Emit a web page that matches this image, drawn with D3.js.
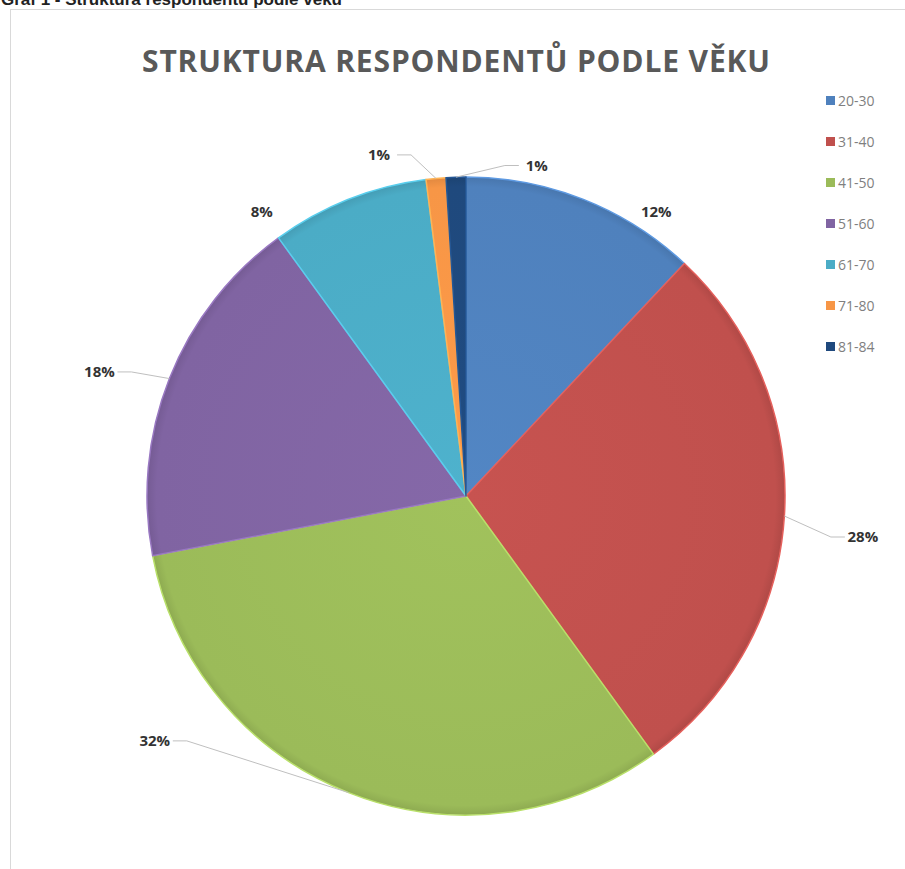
<!DOCTYPE html>
<html>
<head>
<meta charset="utf-8">
<script src="https://cdn.jsdelivr.net/npm/d3@7"></script>
<style>
  body { margin: 0; background: #fff; }
  svg { display: block; }
</style>
</head>
<body>
<div id="chart"></div>
<script>
// data
var categories = ['20-30', '31-40', '41-50', '51-60', '61-70', '71-80', '81-84'];
var shares = [12, 28, 32, 18, 8, 1, 1];
var labels = ['12%', '28%', '32%', '18%', '8%', '1%', '1%'];
var colors = ['#4f81bd', '#c0504d', '#9bbb59', '#8064a2', '#4bacc6', '#f79646', '#1f497d'];

// label placement (angle in degrees clockwise from top, distance from centre, leader line)
var labelLayout = [
  {a: 33.8, d: 342, leader: false},
  {a: 95.9, d: 399, leader: true},
  {a: 231.8, d: 396, leader: true},
  {a: 288.7, d: 387, leader: true},
  {a: 324.3, d: 350, leader: false},
  {a: 345.7, d: 352, leader: true},
  {a: 12.1, d: 338, leader: true}
];

var W = 905, H = 869;
var cx = 466, cy = 496, R = 319;

var svg = d3.select('#chart').append('svg')
  .attr('width', W).attr('height', H);

svg.append('rect')
  .attr('width', W).attr('height', H).attr('fill', '#fff');

// caption above the chart frame (cut by the page edge, as in the source)
svg.append('text')
  .attr('x', 1).attr('y', 5)
  .style('font-family', 'Liberation Sans, Arial, sans-serif')
  .style('font-weight', 'bold')
  .style('font-size', '17px')
  .attr('fill', '#222')
  .text('Graf 1 - Struktura respondentů podle věku');

// chart frame
svg.append('rect')
  .attr('x', 10.5).attr('y', 9.5)
  .attr('width', W + 20).attr('height', H + 20)
  .attr('fill', '#fff')
  .attr('stroke', '#d9d9d9');

svg.append('text')
  .attr('x', 456).attr('y', 72)
  .attr('text-anchor', 'middle')
  .attr('textLength', 628)
  .attr('lengthAdjust', 'spacing')
  .style('font-family', 'Open Sans, sans-serif')
  .style('font-weight', 'bold')
  .style('font-size', '30px')
  .attr('fill', '#595959')
  .text('STRUKTURA RESPONDENTŮ PODLE VĚKU');

var pie = d3.pie().sort(null).value(function(d){ return d; });
var arcs = pie(shares);
var arc = d3.arc().innerRadius(0).outerRadius(R);

var defs = svg.append('defs');
colors.forEach(function(c, i){
  var g = defs.append('radialGradient')
    .attr('id', 'g' + i)
    .attr('gradientUnits', 'userSpaceOnUse')
    .attr('cx', 0).attr('cy', 0).attr('r', R);
  g.append('stop').attr('offset', '0%').attr('stop-color', d3.color(c).brighter(0.1));
  g.append('stop').attr('offset', '97%').attr('stop-color', c);
  g.append('stop').attr('offset', '100%').attr('stop-color', d3.color(c).darker(0.25));
});

var gPie = svg.append('g').attr('transform', 'translate(' + cx + ',' + cy + ')');

gPie.selectAll('path.slice')
  .data(arcs)
  .enter().append('path')
  .attr('class', 'slice')
  .attr('d', arc)
  .attr('fill', function(d, i){ return 'url(#g' + i + ')'; })
  .attr('stroke', function(d, i){ return d3.color(colors[i]).brighter(0.5); })
  .attr('stroke-width', 1.5)
  .attr('stroke-linejoin', 'round');

// data labels and leader lines
function polar(angDeg, dist){
  var t = angDeg * Math.PI / 180;
  return [cx + dist * Math.sin(t), cy - dist * Math.cos(t)];
}

var labelG = svg.append('g');
arcs.forEach(function(d, i){
  var L = labelLayout[i];
  var p = polar(L.a, L.d);
  var right = p[0] >= cx;
  if (L.leader) {
    var mid = (d.startAngle + d.endAngle) / 2 * 180 / Math.PI;
    var e = polar(mid, R);
    var nx = right ? p[0] - 18 : p[0] + 18;
    var elbow = [right ? nx - 14 : nx + 14, p[1]];
    labelG.append('path')
      .attr('d', d3.line()([e, elbow, [nx, p[1]]]))
      .attr('fill', 'none')
      .attr('stroke', '#bfbfbf')
      .attr('stroke-width', 1);
  }
  labelG.append('text')
    .attr('x', p[0]).attr('y', p[1] + 5)
    .attr('text-anchor', 'middle')
    .style('font-family', 'Open Sans, sans-serif')
    .style('font-weight', 'bold')
    .style('font-size', '15px')
    .attr('fill', '#333')
    .text(labels[i]);
});

// legend
var legend = svg.append('g').attr('transform', 'translate(826,101)');
var row = legend.selectAll('g')
  .data(categories)
  .enter().append('g')
  .attr('transform', function(d, i){ return 'translate(0,' + (i * 41) + ')'; });
row.append('rect')
  .attr('x', 0).attr('y', -5)
  .attr('width', 9).attr('height', 9)
  .attr('fill', function(d, i){ return colors[i]; });
row.append('text')
  .attr('x', 12).attr('y', 5)
  .style('font-family', 'Open Sans, sans-serif')
  .style('font-size', '14px')
  .attr('fill', '#7f7f7f')
  .text(function(d){ return d; });
</script>
</body>
</html>
